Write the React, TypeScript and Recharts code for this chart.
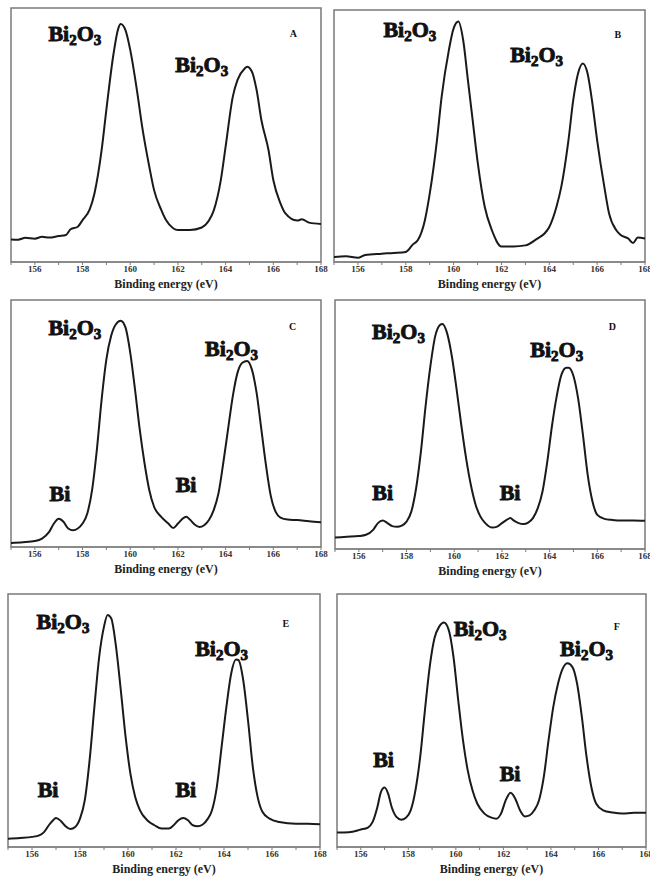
import { LineChart, Line, XAxis, YAxis, ReferenceArea, ReferenceDot } from 'recharts';

const ticks = [155, 156, 157, 158, 159, 160, 161, 162, 163, 164, 165, 166, 167, 168];
const tickLabels = [156, 158, 160, 162, 164, 166, 168];

// intensities are in % of the plot height (0 = bottom axis)
const energyA = [155, 155.3, 155.6, 156, 156.3, 156.6, 157, 157.3, 157.5, 157.8, 158, 158.3, 158.5, 158.8, 159, 159.3, 159.5, 159.6, 159.8, 160, 160.3, 160.5, 160.8, 161, 161.3, 161.5, 161.8, 162, 162.5, 163, 163.3, 163.5, 163.8, 164, 164.3, 164.5, 164.8, 164.9, 165.1, 165.3, 165.5, 165.8, 166, 166.3, 166.5, 167, 167.2, 167.5, 168];
const intensityA = [8.9, 8.8, 9.5, 9.2, 9.9, 9.6, 10.2, 10.6, 12.9, 13.9, 16.5, 20.7, 27, 44, 60, 82, 92, 93.7, 91.3, 83.5, 66.4, 53.3, 37.5, 28.3, 20.5, 16.5, 13.3, 12.6, 12.6, 13.6, 16.3, 20.2, 32.3, 45.4, 65, 71.7, 76.2, 76.9, 75, 67.7, 55.9, 44, 32.3, 23.1, 19.2, 16.3, 16.8, 15.5, 15];

const energyB = [155, 155.5, 156, 156.3, 157, 157.5, 158, 158.3, 158.5, 158.8, 159, 159.3, 159.5, 159.8, 160, 160.2, 160.4, 160.6, 160.8, 161, 161.3, 161.6, 162, 162.5, 163, 163.5, 163.8, 164, 164.3, 164.5, 164.8, 165, 165.2, 165.4, 165.6, 165.8, 166, 166.3, 166.5, 166.8, 167, 167.3, 167.5, 167.7, 168];
const intensityB = [2, 2.3, 1.7, 2.8, 3.3, 3.6, 4, 7, 8.6, 16.6, 27, 48, 65.6, 84, 92.7, 95.4, 88, 72, 56, 40, 21.9, 12.6, 6.2, 6.2, 6.6, 9.3, 11.3, 13.9, 21.9, 29.8, 48.3, 64.2, 74.8, 78.8, 74.8, 63, 48.3, 29.8, 19.2, 12.6, 10.6, 9.3, 7.5, 9.7, 9.3];

const energyC = [155, 155.5, 156, 156.3, 156.6, 156.8, 157, 157.2, 157.4, 157.6, 157.8, 158, 158.2, 158.4, 158.6, 158.8, 159, 159.2, 159.4, 159.6, 159.8, 160, 160.2, 160.4, 160.6, 160.8, 161, 161.3, 161.6, 161.8, 162, 162.2, 162.35, 162.5, 162.7, 162.9, 163.1, 163.3, 163.5, 163.7, 163.9, 164.1, 164.3, 164.5, 164.7, 164.9, 165.1, 165.3, 165.5, 165.7, 165.9, 166.1, 166.3, 166.6, 167, 167.5, 168];
const intensityC = [1.6, 1.9, 2.4, 3.4, 6.1, 9.5, 11.4, 10.2, 7.5, 6.8, 7.5, 9.5, 13.6, 23, 39.3, 59.7, 76, 85.5, 90.2, 91.6, 88.9, 78.7, 63.8, 47.5, 33.9, 23, 16.3, 12.2, 9.5, 7.7, 9.5, 11.5, 12.2, 11.1, 9.1, 8.1, 8.8, 10.9, 14.9, 21.7, 33.9, 47.5, 61, 70.6, 74.6, 75.3, 71.9, 62.4, 47.5, 32.6, 20.4, 14.2, 11.9, 11.1, 10.9, 10.4, 10];

const energyD = [155, 155.5, 156, 156.3, 156.6, 156.8, 157, 157.2, 157.4, 157.6, 157.8, 158, 158.2, 158.4, 158.6, 158.8, 159, 159.2, 159.4, 159.5, 159.7, 159.9, 160.1, 160.3, 160.5, 160.7, 160.9, 161.1, 161.3, 161.6, 161.8, 162, 162.2, 162.35, 162.5, 162.7, 162.9, 163.1, 163.3, 163.5, 163.7, 163.9, 164.1, 164.3, 164.5, 164.7, 164.8, 165, 165.2, 165.4, 165.6, 165.8, 166, 166.3, 166.6, 167, 167.5, 168];
const intensityD = [4.6, 4.9, 5.2, 5.7, 7.7, 10.4, 11.4, 10.4, 9.2, 8.9, 9.4, 11, 15, 24.3, 38.9, 57.5, 73.4, 85.4, 90, 90.4, 86.7, 77.4, 64.1, 49.5, 36.3, 25.6, 17.7, 13, 10.4, 8.6, 9, 10.4, 11.7, 12.4, 11.4, 10.4, 10, 10.6, 12.4, 16.3, 23, 34.9, 49.5, 61.5, 70.1, 72.8, 72.8, 69.5, 60.2, 45.6, 29.6, 19, 13.7, 12.1, 11.7, 11.4, 11.4, 11.3];

const energyE = [155, 155.5, 156, 156.3, 156.5, 156.7, 156.9, 157, 157.2, 157.4, 157.6, 157.8, 158, 158.2, 158.4, 158.6, 158.8, 159, 159.15, 159.3, 159.5, 159.7, 159.9, 160.1, 160.3, 160.5, 160.8, 161.1, 161.4, 161.7, 161.9, 162.1, 162.3, 162.5, 162.7, 162.9, 163.1, 163.3, 163.5, 163.7, 163.9, 164.1, 164.3, 164.5, 164.6, 164.8, 165, 165.2, 165.4, 165.6, 165.9, 166.3, 167, 167.5, 168];
const intensityE = [3.3, 3.6, 4, 4.6, 5.9, 8.6, 10.8, 11.5, 10.3, 8.2, 7.1, 7.9, 11.2, 18.5, 34.3, 55.4, 75.2, 87.1, 91.7, 90.4, 79.2, 62, 43.5, 29, 19.8, 14.5, 10.6, 8.6, 7.3, 7.3, 8.6, 10.6, 11.5, 10.6, 8.6, 8.2, 8.8, 10.8, 14.5, 23.7, 39.6, 55.4, 68.6, 74.1, 73.9, 66, 50.1, 31.7, 19.8, 13.9, 11.2, 9.9, 9.2, 9.2, 9];

const energyF = [155, 155.5, 156, 156.3, 156.5, 156.7, 156.85, 157, 157.15, 157.3, 157.5, 157.7, 157.9, 158.1, 158.3, 158.5, 158.7, 158.9, 159.1, 159.3, 159.5, 159.7, 159.9, 160.1, 160.3, 160.5, 160.7, 160.9, 161.2, 161.5, 161.7, 161.9, 162.1, 162.3, 162.5, 162.7, 162.9, 163.1, 163.3, 163.5, 163.7, 163.9, 164.1, 164.3, 164.5, 164.7, 164.9, 165.1, 165.3, 165.5, 165.7, 165.9, 166.2, 166.6, 167, 167.5, 168];
const intensityF = [5.7, 5.8, 6.9, 7.7, 9.9, 15.8, 21.8, 23.5, 21.1, 15.8, 11.9, 10.8, 11.6, 14.5, 22.4, 35.6, 54.1, 71.2, 82.5, 87.1, 88.7, 85.8, 75.2, 58, 42.2, 30.3, 22.4, 17.2, 13.2, 11.6, 11.2, 13.2, 18.5, 21.4, 19.1, 14.5, 12.1, 12.5, 14.5, 18.5, 27.7, 42.2, 55.4, 64.6, 70.6, 72.6, 71.2, 64.6, 51.5, 35.6, 23.7, 17.2, 14.5, 13.6, 13.2, 13.5, 13.5];

type Tag = { text: string; x: number; y: number; size: number };

const tagsA: Tag[] = [
  { text: 'Bi2O3', x: 157.68, y: 90, size: 22 },
  { text: 'Bi2O3', x: 163.0, y: 77.6, size: 22 },
  { text: 'A', x: 166.84, y: 90, size: 10 },
];
const tagsB: Tag[] = [
  { text: 'Bi2O3', x: 158.17, y: 92, size: 22 },
  { text: 'Bi2O3', x: 163.47, y: 82.1, size: 22 },
  { text: 'B', x: 166.86, y: 90.1, size: 10 },
];
const tagsC: Tag[] = [
  { text: 'Bi2O3', x: 157.68, y: 88.9, size: 22 },
  { text: 'Bi2O3', x: 164.25, y: 80.1, size: 22 },
  { text: 'Bi', x: 157.05, y: 21.4, size: 22 },
  { text: 'Bi', x: 162.34, y: 25.1, size: 22 },
  { text: 'C', x: 166.81, y: 89.3, size: 10 },
];
const tagsD: Tag[] = [
  { text: 'Bi2O3', x: 157.66, y: 87.4, size: 22 },
  { text: 'Bi2O3', x: 164.3, y: 80.1, size: 22 },
  { text: 'Bi', x: 157.0, y: 22.7, size: 22 },
  { text: 'Bi', x: 162.34, y: 22.7, size: 22 },
  { text: 'D', x: 166.63, y: 89.4, size: 10 },
];
const tagsE: Tag[] = [
  { text: 'Bi2O3', x: 157.29, y: 89, size: 22 },
  { text: 'Bi2O3', x: 163.9, y: 78.5, size: 22 },
  { text: 'Bi', x: 156.67, y: 22.7, size: 22 },
  { text: 'Bi', x: 162.41, y: 22.7, size: 22 },
  { text: 'E', x: 166.58, y: 88.4, size: 10 },
];
const tagsF: Tag[] = [
  { text: 'Bi2O3', x: 161.02, y: 86.4, size: 22 },
  { text: 'Bi2O3', x: 165.5, y: 78.5, size: 22 },
  { text: 'Bi', x: 156.96, y: 34.3, size: 22 },
  { text: 'Bi', x: 162.28, y: 28.8, size: 22 },
  { text: 'F', x: 166.77, y: 87.1, size: 10 },
];

const serif = "'Liberation Serif', 'Times New Roman', serif";
const frame = '#7a7a7a';

function TagText({ cx, cy, tag }: { cx: number; cy: number; tag: Tag }) {
  // digits become subscripts
  const parts = tag.text.match(/\d+|\D+/g) || [];
  const sub = Math.round(tag.size * 0.68);
  const shift = Math.round(tag.size * 0.2);
  const big = tag.size > 12;
  let down = false;
  return (
    <text
      x={cx}
      y={cy + tag.size * 0.33}
      textAnchor="middle"
      fontFamily={serif}
      fontWeight="bold"
      fontSize={tag.size}
      fill="#111"
      stroke={big ? '#111' : 'none'}
      strokeWidth={big ? 0.9 : 0}
    >
      {parts.map((p, i) => {
        const isSub = /\d/.test(p);
        const dy = isSub && !down ? shift : !isSub && down ? -shift : 0;
        down = isSub;
        return (
          <tspan key={i} dy={dy} fontSize={isSub ? sub : tag.size}>
            {p}
          </tspan>
        );
      })}
    </text>
  );
}

type PanelProps = {
  left: number;
  top: number;
  width: number;
  height: number;
  energy: number[];
  intensity: number[];
  tags: Tag[];
};

function Panel({ left, top, width, height, energy, intensity, tags }: PanelProps) {
  const data = energy.map((e, i) => ({ e, v: intensity[i] }));
  const mL = 10, mR = 10, mT = 4, axisH = 32;
  return (
    <div style={{ position: 'absolute', left: left - mL, top: top - mT }}>
      <LineChart
        width={width + mL + mR}
        height={height + mT + axisH}
        data={data}
        margin={{ top: mT, right: mR, left: mL, bottom: 0 }}
      >
        <XAxis
          dataKey="e"
          type="number"
          domain={[155, 168]}
          ticks={ticks}
          interval={0}
          allowDataOverflow
          tickFormatter={(v: number) => (tickLabels.includes(v) ? String(v) : '')}
          height={axisH}
          tickSize={3}
          tickMargin={1}
          stroke={frame}
          tick={{ fontSize: 9, fontWeight: 'bold', fill: '#333', fontFamily: serif }}
          label={{
            value: 'Binding energy (eV)',
            position: 'insideBottom',
            offset: 6,
            fill: '#222',
            fontSize: 12,
            fontWeight: 'bold',
            fontFamily: serif,
          }}
        />
        <YAxis hide type="number" domain={[0, 100]} width={0} />
        <ReferenceArea x1={155} x2={168} y1={0} y2={100} fill="none" stroke={frame} strokeWidth={1.5} />
        <Line
          dataKey="v"
          type="monotone"
          stroke="#1a1a1a"
          strokeWidth={2}
          dot={false}
          isAnimationActive={false}
        />
        {tags.map((t, i) => (
          <ReferenceDot
            key={i}
            x={t.x}
            y={t.y}
            r={0}
            shape={(p: any) => <TagText cx={p.cx} cy={p.cy} tag={t} />}
          />
        ))}
      </LineChart>
    </div>
  );
}

export default function App() {
  return (
    <div style={{ position: 'absolute', left: 0, top: 0, width: 650, height: 879, overflow: 'hidden', background: '#fff' }}>
      <Panel left={11} top={8} width={310} height={254} energy={energyA} intensity={intensityA} tags={tagsA} />
      <Panel left={334} top={10} width={311} height={252} energy={energyB} intensity={intensityB} tags={tagsB} />
      <Panel left={11} top={300} width={310} height={247} energy={energyC} intensity={intensityC} tags={tagsC} />
      <Panel left={335} top={300} width={310} height={249} energy={energyD} intensity={intensityD} tags={tagsD} />
      <Panel left={8} top={594} width={312} height={253} energy={energyE} intensity={intensityE} tags={tagsE} />
      <Panel left={337} top={594} width={309} height={253} energy={energyF} intensity={intensityF} tags={tagsF} />
    </div>
  );
}
